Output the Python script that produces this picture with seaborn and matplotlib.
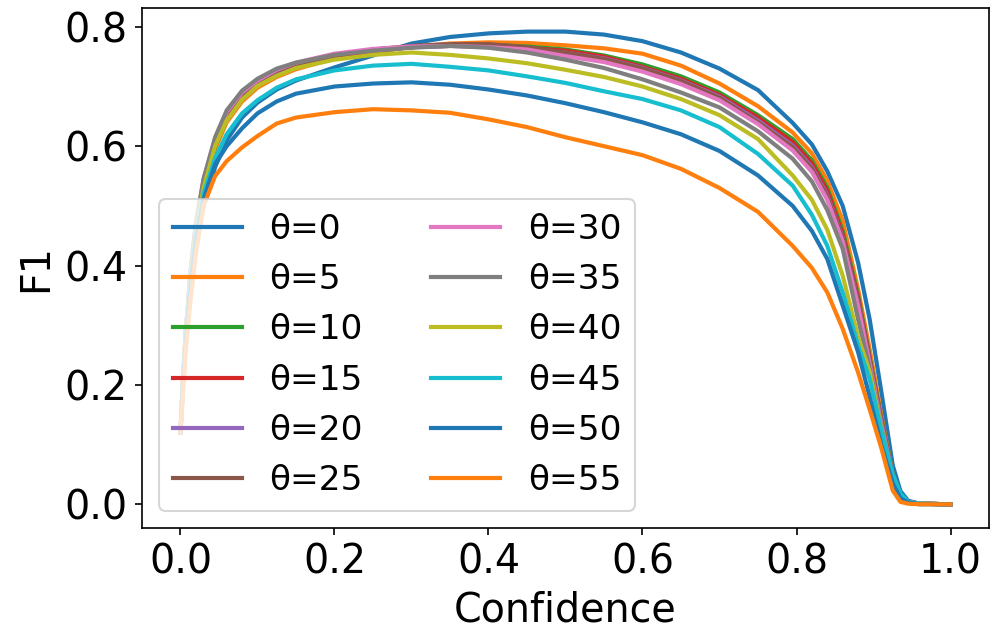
import numpy as np
import pandas as pd
import seaborn as sns
import matplotlib.pyplot as plt

# confidence grid
conf = [0, 0.003, 0.007, 0.013, 0.02, 0.03, 0.045, 0.06, 0.08, 0.1, 0.125, 0.15,
        0.2, 0.25, 0.3, 0.35, 0.4, 0.45, 0.5, 0.55, 0.6, 0.65, 0.7,
        0.75, 0.795, 0.82, 0.84, 0.86, 0.88, 0.895, 0.91, 0.925, 0.935, 0.945, 0.96, 1.0]

thetas = [0, 5, 10, 15, 20, 25, 30, 35, 40, 45, 50, 55]

f1_t0 = [0.12, 0.2, 0.28, 0.37, 0.44, 0.5, 0.565, 0.61, 0.648, 0.673, 0.695, 0.71,
         0.732, 0.752, 0.772, 0.783, 0.789, 0.792, 0.792, 0.787, 0.776, 0.757, 0.73,
         0.694, 0.639, 0.603, 0.558, 0.5, 0.405, 0.31, 0.19, 0.065, 0.022, 0.006, 0.001, 0.0]
f1_t5 = [0.12, 0.2, 0.28, 0.37, 0.45, 0.525, 0.595, 0.64, 0.675, 0.698, 0.716, 0.729,
         0.747, 0.758, 0.766, 0.772, 0.774, 0.773, 0.769, 0.764, 0.755, 0.735, 0.705,
         0.667, 0.623, 0.588, 0.542, 0.475, 0.36, 0.26, 0.15, 0.05, 0.016, 0.004, 0.001, 0.0]
f1_t10 = [0.12, 0.2, 0.29, 0.38, 0.46, 0.535, 0.6, 0.645, 0.68, 0.703, 0.72, 0.733,
          0.75, 0.76, 0.766, 0.769, 0.77, 0.767, 0.762, 0.752, 0.737, 0.717, 0.69,
          0.652, 0.612, 0.576, 0.53, 0.458, 0.35, 0.247, 0.145, 0.048, 0.015, 0.004, 0.001, 0.0]
f1_t15 = [0.12, 0.2, 0.29, 0.38, 0.46, 0.535, 0.6, 0.645, 0.68, 0.703, 0.72, 0.733,
          0.75, 0.76, 0.766, 0.768, 0.769, 0.765, 0.76, 0.75, 0.733, 0.713, 0.686,
          0.648, 0.607, 0.571, 0.525, 0.452, 0.345, 0.244, 0.143, 0.047, 0.015, 0.004, 0.001, 0.0]
f1_t20 = [0.12, 0.2, 0.29, 0.385, 0.465, 0.54, 0.605, 0.65, 0.685, 0.707, 0.724, 0.736,
          0.753, 0.762, 0.766, 0.768, 0.767, 0.763, 0.757, 0.747, 0.731, 0.71, 0.683,
          0.643, 0.601, 0.565, 0.518, 0.447, 0.34, 0.24, 0.14, 0.046, 0.014, 0.004, 0.001, 0.0]
f1_t25 = [0.12, 0.2, 0.29, 0.385, 0.465, 0.54, 0.607, 0.652, 0.687, 0.708, 0.726, 0.737,
          0.752, 0.762, 0.768, 0.771, 0.771, 0.766, 0.757, 0.746, 0.73, 0.709, 0.681,
          0.64, 0.598, 0.562, 0.515, 0.445, 0.338, 0.238, 0.138, 0.045, 0.014, 0.004, 0.001, 0.0]
f1_t30 = [0.12, 0.2, 0.29, 0.39, 0.47, 0.545, 0.612, 0.657, 0.69, 0.71, 0.728, 0.74,
          0.755, 0.763, 0.767, 0.768, 0.766, 0.762, 0.751, 0.741, 0.725, 0.704, 0.677,
          0.637, 0.593, 0.557, 0.51, 0.44, 0.332, 0.235, 0.135, 0.045, 0.014, 0.004, 0.001, 0.0]
f1_t35 = [0.12, 0.2, 0.29, 0.39, 0.47, 0.545, 0.615, 0.66, 0.693, 0.713, 0.73, 0.74,
          0.753, 0.76, 0.765, 0.768, 0.765, 0.757, 0.745, 0.731, 0.712, 0.69, 0.665,
          0.625, 0.579, 0.541, 0.493, 0.428, 0.31, 0.228, 0.13, 0.042, 0.013, 0.003, 0.001, 0.0]
f1_t40 = [0.12, 0.2, 0.29, 0.38, 0.46, 0.53, 0.6, 0.643, 0.678, 0.701, 0.718, 0.731,
          0.745, 0.753, 0.757, 0.753, 0.747, 0.739, 0.728, 0.716, 0.7, 0.679, 0.652,
          0.612, 0.551, 0.51, 0.46, 0.383, 0.28, 0.222, 0.128, 0.042, 0.013, 0.003, 0.001, 0.0]
f1_t45 = [0.12, 0.2, 0.28, 0.37, 0.45, 0.52, 0.58, 0.62, 0.655, 0.677, 0.698, 0.712,
          0.727, 0.735, 0.738, 0.733, 0.727, 0.717, 0.706, 0.692, 0.679, 0.66, 0.632,
          0.587, 0.534, 0.485, 0.433, 0.355, 0.266, 0.21, 0.125, 0.05, 0.018, 0.004, 0.001, 0.0]
f1_t50 = [0.12, 0.19, 0.27, 0.36, 0.44, 0.51, 0.57, 0.6, 0.63, 0.655, 0.675, 0.688,
          0.7, 0.705, 0.707, 0.703, 0.695, 0.685, 0.672, 0.657, 0.64, 0.62, 0.592,
          0.551, 0.5, 0.458, 0.411, 0.333, 0.255, 0.18, 0.1, 0.035, 0.01, 0.003, 0.0, 0.0]
f1_t55 = [0.12, 0.18, 0.26, 0.34, 0.42, 0.5, 0.55, 0.575, 0.598, 0.617, 0.638, 0.648,
          0.657, 0.662, 0.66, 0.656, 0.645, 0.632, 0.615, 0.6, 0.585, 0.562, 0.53,
          0.49, 0.433, 0.396, 0.355, 0.294, 0.221, 0.159, 0.095, 0.023, 0.004, 0.001, 0.0, 0.0]

all_f1 = [f1_t0, f1_t5, f1_t10, f1_t15, f1_t20, f1_t25,
          f1_t30, f1_t35, f1_t40, f1_t45, f1_t50, f1_t55]

# long table for seaborn
rows = []
for th, vals in zip(thetas, all_f1):
    for c, v in zip(conf, vals):
        rows.append({"Confidence": c, "F1": v, "theta": f"θ={th}"})
df = pd.DataFrame(rows)
labels = [f"θ={th}" for th in thetas]

fig, ax = plt.subplots(figsize=(6.6, 4.22), dpi=150)
fig.subplots_adjust(left=0.1434, right=0.999, top=0.9874, bottom=0.166)

# tab10 cycles, so theta=50/55 reuse blue/orange
pal = sns.color_palette("tab10", 10) + sns.color_palette("tab10", 2)
sns.lineplot(data=df, x="Confidence", y="F1", hue="theta", hue_order=labels,
             palette=pal, linewidth=2, ax=ax, estimator=None, sort=False)

handles, labs = ax.get_legend_handles_labels()
for h in handles:
    h.set_linewidth(2)
ax.legend(handles, labs, ncol=2, loc="lower left", fontsize=16.5)

ax.set_xlabel("Confidence", fontsize=19)
ax.set_ylabel("F1", fontsize=19)
ax.tick_params(labelsize=19)

plt.savefig("out.png", dpi=150)
